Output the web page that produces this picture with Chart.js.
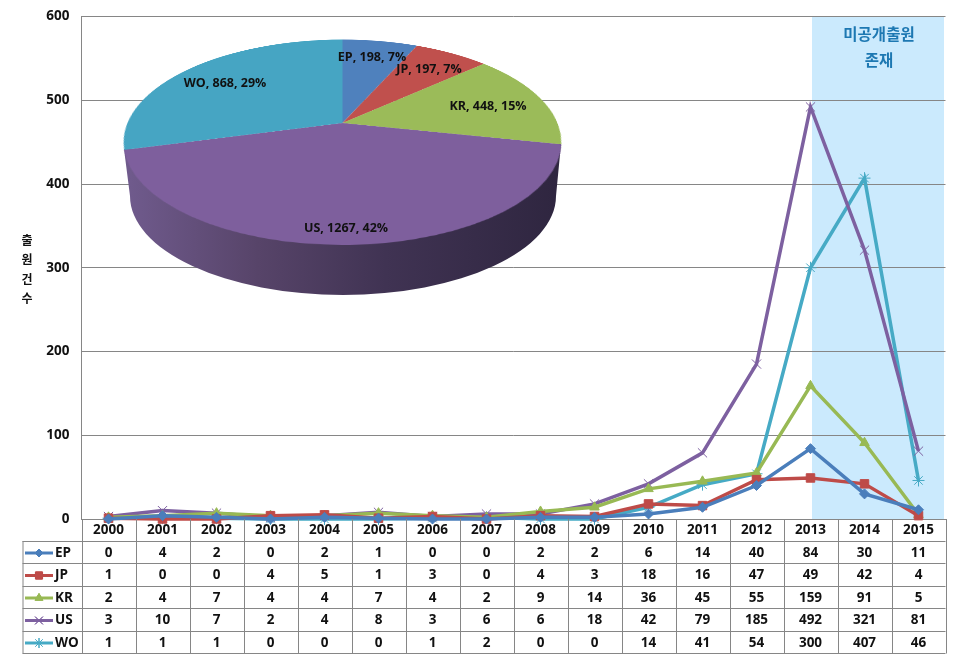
<!DOCTYPE html>
<html>
<head>
<meta charset="utf-8">
<style>
	html, body { margin: 0; padding: 0; background: #fff; }
	#wrap { position: relative; width: 960px; height: 660px; overflow: hidden; }
	#wrap canvas { position: absolute; left: 0; top: 0; }
	.pie-label {
		position: absolute;
		transform: translate(-50%, -50%);
		white-space: nowrap;
		font: bold 12.5px "Open Sans", "Noto Sans", sans-serif;
		color: #111;
	}
</style>
<script src="https://cdn.jsdelivr.net/npm/chart.js@4/dist/chart.umd.js"></script>
</head>
<body>
<div id="wrap">
	<canvas id="lines" width="960" height="660"></canvas>
	<canvas id="pie" width="440" height="440"></canvas>
</div>
<script>
const years = ['2000', '2001', '2002', '2003', '2004', '2005', '2006', '2007', '2008', '2009', '2010', '2011', '2012', '2013', '2014', '2015'];
const EP = [0, 4, 2, 0, 2, 1, 0, 0, 2, 2, 6, 14, 40, 84, 30, 11];
const JP = [1, 0, 0, 4, 5, 1, 3, 0, 4, 3, 18, 16, 47, 49, 42, 4];
const KR = [2, 4, 7, 4, 4, 7, 4, 2, 9, 14, 36, 45, 55, 159, 91, 5];
const US = [3, 10, 7, 2, 4, 8, 3, 6, 6, 18, 42, 79, 185, 492, 321, 81];
const WO = [1, 1, 1, 0, 0, 0, 1, 2, 0, 0, 14, 41, 54, 300, 407, 46];
const yTicks = [0, 100, 200, 300, 400, 500, 600];

const pieNames = ['EP', 'JP', 'KR', 'US', 'WO'];
const pieValues = [198, 197, 448, 1267, 868];
const piePercents = [7, 7, 15, 42, 29];

const bandTitle = ['미공개출원', '존재'];
const yTitle = ['출', '원', '건', '수'];

const colors = {EP: '#4a7ebb', JP: '#be4b48', KR: '#98b954', US: '#7d60a0', WO: '#46aac5'};
const pieColors = ['#4f81bd', '#c0504d', '#9bbb59', '#7e5f9d', '#46a5c3'];
const gridColor = '#868686';
const labelFont = '"Open Sans", "Noto Sans", sans-serif';

const series = [
	{name: 'EP', data: EP, point: 'rectRot', size: 5},
	{name: 'JP', data: JP, point: 'rect', size: 6},
	{name: 'KR', data: KR, point: 'triangle', size: 5.5},
	{name: 'US', data: US, point: 'crossRot', size: 6.5},
	{name: 'WO', data: WO, point: 'star', size: 6}
];

// table under the plot, lines up with the category scale
const rowEdges = [541, 563, 586, 608, 631, 653];
const tableLeft = 22.5;

const tablePlugin = {
	id: 'dataTable',
	beforeDraw(chart) {
		const x = chart.scales.x;
		const area = chart.chartArea;
		const ctx = chart.ctx;
		const bandLeft = x.getPixelForValue(13) + 1.5;
		ctx.save();
		ctx.fillStyle = '#cbeafd';
		ctx.fillRect(bandLeft, area.top, area.right - 1.5 - bandLeft, area.bottom - area.top);
		ctx.restore();
	},
	afterDraw(chart) {
		const x = chart.scales.x;
		const area = chart.chartArea;
		const ctx = chart.ctx;
		const step = x.getPixelForValue(1) - x.getPixelForValue(0);
		const bottom = rowEdges[rowEdges.length - 1];

		ctx.save();
		ctx.strokeStyle = gridColor;
		ctx.lineWidth = 1;
		ctx.beginPath();
		rowEdges.forEach(function(y) {
			ctx.moveTo(tableLeft, y + 0.5);
			ctx.lineTo(area.right, y + 0.5);
		});
		ctx.moveTo(tableLeft + 0.5, rowEdges[0]);
		ctx.lineTo(tableLeft + 0.5, bottom + 0.5);
		for (let i = 0; i <= years.length; i++) {
			const edge = Math.round(area.left + i * step) + 0.5;
			ctx.moveTo(edge, area.bottom);
			ctx.lineTo(edge, bottom + 0.5);
		}
		ctx.stroke();

		ctx.textBaseline = 'middle';
		series.forEach(function(s, row) {
			const y = (rowEdges[row] + rowEdges[row + 1]) / 2 + 1;
			ctx.font = 'bold 13.5px ' + labelFont;
			ctx.fillStyle = '#111';
			ctx.textAlign = 'center';
			s.data.forEach(function(v, i) {
				ctx.fillText(String(v), x.getPixelForValue(i), y);
			});
			// legend key
			ctx.textAlign = 'left';
			ctx.fillText(s.name, 55, y);
			ctx.strokeStyle = colors[s.name];
			ctx.fillStyle = colors[s.name];
			ctx.lineWidth = 3;
			ctx.beginPath();
			ctx.moveTo(25, y);
			ctx.lineTo(53, y);
			ctx.stroke();
			ctx.lineWidth = 1;
			Chart.helpers.drawPoint(ctx, {pointStyle: s.point, radius: s.size - 1, borderWidth: 1}, 39, y);
			ctx.fill();
			ctx.stroke();
		});

		// band note and the stacked axis title
		ctx.textAlign = 'center';
		ctx.fillStyle = '#1d78b2';
		ctx.font = 'bold 15.5px "Noto Sans CJK KR"';
		ctx.fillText(bandTitle[0], 879, 34);
		ctx.fillText(bandTitle[1], 879, 60);
		ctx.fillStyle = '#111';
		ctx.font = 'bold 12px "Noto Sans CJK KR"';
		yTitle.forEach(function(ch, i) {
			ctx.fillText(ch, 27, 240 + i * 19.5);
		});
		ctx.restore();

		// pie wall, sits behind the pie canvas
		const wall = ctx.createLinearGradient(130, 0, 556, 0);
		wall.addColorStop(0, '#6f5a8c');
		wall.addColorStop(0.3, '#574469');
		wall.addColorStop(0.6, '#403353');
		wall.addColorStop(1, '#2f2640');
		ctx.save();
		ctx.fillStyle = wall;
		ctx.beginPath();
		ctx.moveTo(124, 149);
		ctx.lineTo(130, 196);
		ctx.ellipse(343, 196, 213, 99, 0, Math.PI, 0, true);
		ctx.lineTo(561, 144);
		ctx.closePath();
		ctx.fill();
		ctx.restore();
	}
};

new Chart(document.getElementById('lines'), {
	type: 'line',
	data: {
		labels: years,
		datasets: series.map(function(s) {
			return {
				label: s.name,
				data: s.data,
				borderColor: colors[s.name],
				backgroundColor: colors[s.name],
				borderWidth: 3.5,
				tension: 0,
				clip: false,
				pointStyle: s.point,
				pointRadius: s.size,
				pointBorderWidth: 1
			};
		})
	},
	options: {
		responsive: false,
		animation: false,
		events: [],
		layout: {padding: {top: 16.5, right: 14.5, left: 0, bottom: 0}},
		plugins: {legend: {display: false}, tooltip: {enabled: false}},
		scales: {
			x: {
				offset: true,
				afterFit(scale) { scale.height = 141; },
				grid: {display: false, drawTicks: false},
				border: {color: gridColor},
				ticks: {color: '#111', padding: 3, maxRotation: 0, autoSkip: false, font: {family: labelFont, weight: 'bold', size: 13.5}}
			},
			y: {
				min: yTicks[0],
				max: yTicks[yTicks.length - 1],
				afterFit(scale) {
					scale.width = 81.5;
					scale.paddingTop = 0;
					scale.paddingBottom = 0;
				},
				afterBuildTicks(scale) { scale.ticks = yTicks.map(function(v) { return {value: v}; }); },
				grid: {color: gridColor, drawTicks: false},
				border: {color: gridColor},
				ticks: {color: '#111', padding: 12, font: {family: labelFont, weight: 'bold', size: 13.5}}
			}
		}
	},
	plugins: [tablePlugin]
});

new Chart(document.getElementById('pie'), {
	type: 'pie',
	data: {
		labels: pieNames,
		datasets: [{data: pieValues, backgroundColor: pieColors, borderWidth: 0}]
	},
	options: {
		responsive: false,
		animation: false,
		events: [],
		plugins: {legend: {display: false}, tooltip: {enabled: false}}
	}
});

// projects the flat pie onto the tilted disc; apex stays above the ellipse centre
function pieTransform(size, apexX, apexY, rx, ry, k) {
	const R = size / 2;
	const w0 = 1 - k;
	return 'matrix3d(' + [
		rx / R, 0, 0, 0,
		apexX * k / R, (ry + apexY * k) / R, 0, k / R,
		0, 0, 1, 0,
		apexX * w0 - rx, apexY * w0 - ry, 0, w0
	].join(',') + ')';
}
const pieCanvas = document.getElementById('pie');
pieCanvas.style.transformOrigin = '0 0';
pieCanvas.style.transform = pieTransform(440, 342.5, 123, 215, 99.1, -0.1873);

const pieLabelSpots = [[372, 56], [429, 68], [488, 105], [346, 227], [225, 82]];
pieNames.forEach(function(name, i) {
	const el = document.createElement('div');
	el.className = 'pie-label';
	el.textContent = name + ', ' + pieValues[i] + ', ' + piePercents[i] + '%';
	el.style.left = pieLabelSpots[i][0] + 'px';
	el.style.top = pieLabelSpots[i][1] + 'px';
	document.getElementById('wrap').appendChild(el);
});
</script>
</body>
</html>
